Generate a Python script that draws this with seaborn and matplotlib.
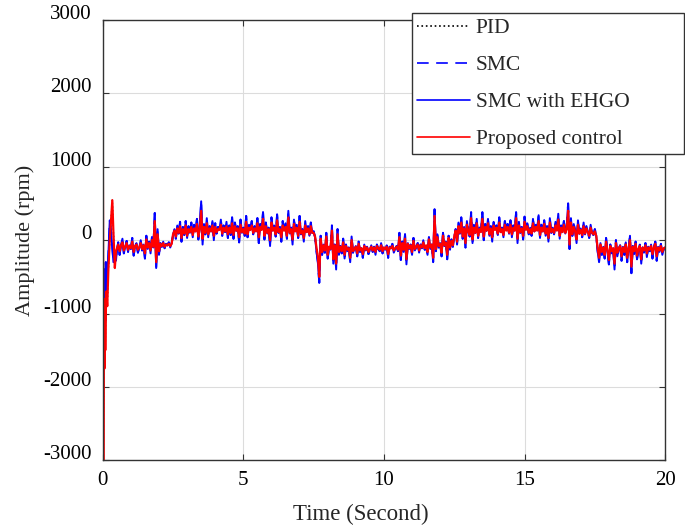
import numpy as np
import matplotlib.transforms as mtransforms
from matplotlib import pyplot as plt
import seaborn as sns

# start-up transient, sampled finer
t_start = [0, 0.005, 0.01, 0.02, 0.03, 0.04, 0.05, 0.06, 0.07, 0.08, 0.09, 0.1,
           0.11, 0.13, 0.16, 0.2, 0.25, 0.3, 0.34, 0.38, 0.43, 0.47]
blue_start = [0, -150, -350, -500, -600, -900, -1300, -800, -400, -700, -1100, -600,
              -300, -900, -500, -200, 270, 100, -100, -300, -150, -280]
red_start = [0, 930, 300, -3000, -1400, -1000, -1500, -1750, -1200, -800, -1500, -1100,
             -900, -700, -900, -400, 0, 300, 545, 100, -380, -150]

# 0.5 s .. 20.0 s, every 0.05 s (one row = one second)
t_main = np.round(np.arange(0.5, 20.001, 0.05), 3)

blue_main = [
    -150, -30, -200, -60, 20, -180, -90, -10, -160, -70, -120, 30, -210, -80, -40, -170, -100, 0, -140, -60,
    -250, 60, -120, -20, -180, 40, -100, 370, -380, 150, -200, -40, -90, -20, -110, -50, -70, -30, -100, -40,
    60, 150, 20, 200, 90, 250, -20, 180, 70, 260, 30, 190, 100, 240, 40, 210, 120, 290, 10, 180,
    530, -60, 220, 80, 300, 40, 190, 120, 260, 0, 230, 90, 180, 150, 280, 60, 200, 110, 250, 30,
    200, 70, 310, 20, 240, 130, 190, -30, 280, 100, 170, 60, 330, 40, 210, 150, 260, 80, 190, 120,
    300, -40, 220, 150, 380, 10, 240, 90, 170, -80, 310, 130, 200, 50, 350, 100, 180, -20, 260, 140,
    230, 20, 400, 90, 170, -60, 280, 130, 210, 30, 330, 80, 150, -20, 260, 110, 190, 60, 240, 100,
    120, 40, -150, -300, -580, 60, -200, -60, -170, 100, -250, -90, -130, 200, -320, -60, -400, 150, -200, -80,
    -180, 20, -250, -60, -150, -100, -300, 50, -170, -120, -80, -220, -20, -160, -110, -240, -60, -140, -90, -190,
    -130, -70, -160, -90, -200, -60, -120, -150, -40, -180, -100, -130, -70, -240, -90, -110, -50, -170, -120, -80,
    -150, 100, -270, -20, -160, 80, -330, -40, -120, -60, -200, 30, -140, -90, -40, -170, -60, -110, 0, -130,
    -80, -200, 40, -120, -60, -300, 420, -150, 80, -100, -40, -220, 100, -80, -20, -260, 60, -130, 10, -90,
    30, 150, -60, 240, 90, 310, 20, 180, -100, 260, 120, 50, 380, -40, 210, 100, 290, 30, 170, 120,
    380, 0, 220, 130, 290, 60, 190, -20, 250, 150, 200, 70, 310, 110, 170, 40, 260, 140, 220, 90,
    270, 40, 200, 130, 380, -40, 250, 100, 180, 10, 320, 150, 230, 80, 170, 60, 290, 120, 210, 140,
    340, 30, 210, 120, 270, 60, 190, -20, 300, 100, 170, 80, 250, 140, 360, 20, 200, 110, 260, 90,
    180, 500, -120, 300, 60, 220, 130, -40, 270, 90, 160, 40, 240, 80, 190, 120, 30, 210, 100, 70,
    150, 60, -150, -300, -40, -200, -90, -250, 30, -160, -330, -60, -180, -110, -400, 0, -220, -120, -70, -280,
    -90, -200, -30, -300, -120, 60, -450, -80, -190, -20, -260, -130, -60, -320, -100, -170, -40, -230, -90, -150,
    -60, -250, -100, -20, -280, -90, -160, -50, -200, -120, -100,
]

red_main = [
    -120, -60, -150, -70, -30, -140, -90, -40, -130, -80, -110, -20, -160, -80, -60, -130, -100, -40, -120, -70,
    -180, 10, -100, -40, -140, 0, -90, 260, -300, 80, -150, -50, -80, -40, -90, -60, -70, -50, -80, -50,
    80, 130, 50, 160, 100, 190, 30, 150, 90, 200, 60, 150, 110, 180, 70, 160, 120, 220, 50, 150,
    400, 20, 180, 100, 230, 80, 160, 120, 200, 60, 180, 110, 150, 140, 210, 90, 170, 120, 190, 80,
    170, 100, 230, 70, 190, 130, 160, 40, 210, 110, 150, 90, 250, 80, 170, 140, 200, 100, 160, 120,
    230, 40, 180, 140, 290, 60, 190, 100, 150, 0, 240, 130, 170, 80, 270, 110, 150, 40, 200, 130,
    180, 60, 310, 100, 150, 10, 220, 120, 170, 60, 250, 90, 130, 30, 200, 110, 160, 80, 190, 100,
    100, 50, -100, -220, -500, 20, -160, -70, -140, 50, -200, -90, -120, 130, -260, -70, -320, 80, -160, -90,
    -150, -30, -200, -80, -130, -110, -240, 0, -150, -120, -90, -180, -50, -140, -110, -190, -80, -130, -100, -160,
    -120, -90, -140, -100, -160, -80, -110, -130, -70, -150, -100, -120, -90, -190, -100, -110, -80, -140, -110, -90,
    -130, 40, -210, -40, -130, 20, -260, -50, -110, -70, -160, -10, -120, -90, -60, -140, -70, -100, -30, -110,
    -70, -160, 10, -100, -60, -240, 330, -120, 40, -80, -50, -170, 60, -70, -30, -200, 30, -100, -10, -70,
    50, 130, -20, 190, 100, 240, 50, 160, -40, 210, 120, 70, 300, 10, 170, 100, 230, 60, 150, 110,
    290, 50, 180, 130, 230, 80, 160, 40, 200, 140, 170, 90, 240, 110, 150, 70, 210, 130, 180, 100,
    210, 80, 170, 130, 300, 20, 200, 110, 160, 60, 250, 140, 190, 100, 150, 90, 230, 120, 180, 130,
    260, 70, 170, 120, 220, 90, 160, 30, 240, 110, 150, 100, 200, 130, 280, 60, 170, 110, 210, 100,
    150, 400, -60, 240, 80, 180, 120, 10, 210, 90, 140, 70, 190, 90, 160, 110, 60, 170, 100, 80,
    120, 60, -110, -240, -60, -160, -100, -200, -20, -140, -270, -80, -150, -110, -320, -40, -170, -110, -80, -220,
    -100, -160, -60, -240, -110, 0, -360, -90, -150, -50, -210, -120, -80, -260, -100, -140, -70, -180, -100, -130,
    -80, -190, -100, -50, -220, -100, -140, -80, -160, -110, -100,
]

t = np.concatenate([t_start, t_main])
blue = np.array(blue_start + blue_main, dtype=float)
red = np.array(red_start + red_main, dtype=float)

sns.set_theme(style='ticks')
plt.rcParams['font.family'] = ['Liberation Serif', 'DejaVu Serif']
plt.rcParams['axes.unicode_minus'] = False
plt.rcParams['xtick.direction'] = 'in'
plt.rcParams['ytick.direction'] = 'in'

fig = plt.figure(figsize=(6.85, 5.29), dpi=100)
ax = fig.add_axes([0.150, 0.130, 0.821, 0.832])

sns.lineplot(x=t, y=red, ax=ax, color='black', linestyle=':', linewidth=1,
             estimator=None, sort=False, label='PID')
sns.lineplot(x=t, y=blue, ax=ax, color='#0000ff', linewidth=1.4,
             estimator=None, sort=False, label='SMC')
sns.lineplot(x=t, y=blue, ax=ax, color='#0000ff', linewidth=1.4,
             estimator=None, sort=False, label='SMC with EHGO')
sns.lineplot(x=t, y=red, ax=ax, color='#ff0000', linewidth=1.6,
             estimator=None, sort=False, label='Proposed control')
ax.lines[1].set_dashes((7, 4.5))

ax.set_xlim(0, 20)
ax.set_ylim(-3000, 3000)
ax.set_xticks([0, 5, 10, 15, 20])
ax.set_yticks([-3000, -2000, -1000, 0, 1000, 2000, 3000])
ax.grid(True, color='#dcdcdc', linewidth=0.8)
ax.set_axisbelow(True)
for s in ax.spines.values():
    s.set_visible(True)
    s.set_color('#333333')
    s.set_linewidth(1.0)
ax.tick_params(labelsize=15, length=4, width=0.8, pad=8, colors='#333333',
               labelcolor='black', top=True, right=True)
# tick labels on the y axis sit a little above their ticks
shift = mtransforms.ScaledTranslation(0, 0.08, fig.dpi_scale_trans)
for lab in ax.get_yticklabels():
    lab.set_transform(lab.get_transform() + shift)

ax.set_xlabel('Time (Second)', fontsize=16.5, labelpad=14)
ax.xaxis.set_label_coords(0.459, -0.1)
ax.set_ylabel('Amplitude (rpm)', fontsize=16, labelpad=6)

leg = ax.legend(loc='upper left', bbox_to_anchor=(412 / 685, 0.707, 272 / 685, 0.2684),
                bbox_transform=fig.transFigure, mode='expand', borderaxespad=0,
                fontsize=15.5, frameon=True, fancybox=False, framealpha=1,
                handlelength=2.45, labelspacing=0.78, handletextpad=0.25,
                borderpad=0.25)
leg.get_frame().set_edgecolor('#333333')
leg.get_frame().set_linewidth(1.0)
for h in leg.get_lines():
    h.set_linewidth(1.2)

plt.savefig('out.png', dpi=100)
